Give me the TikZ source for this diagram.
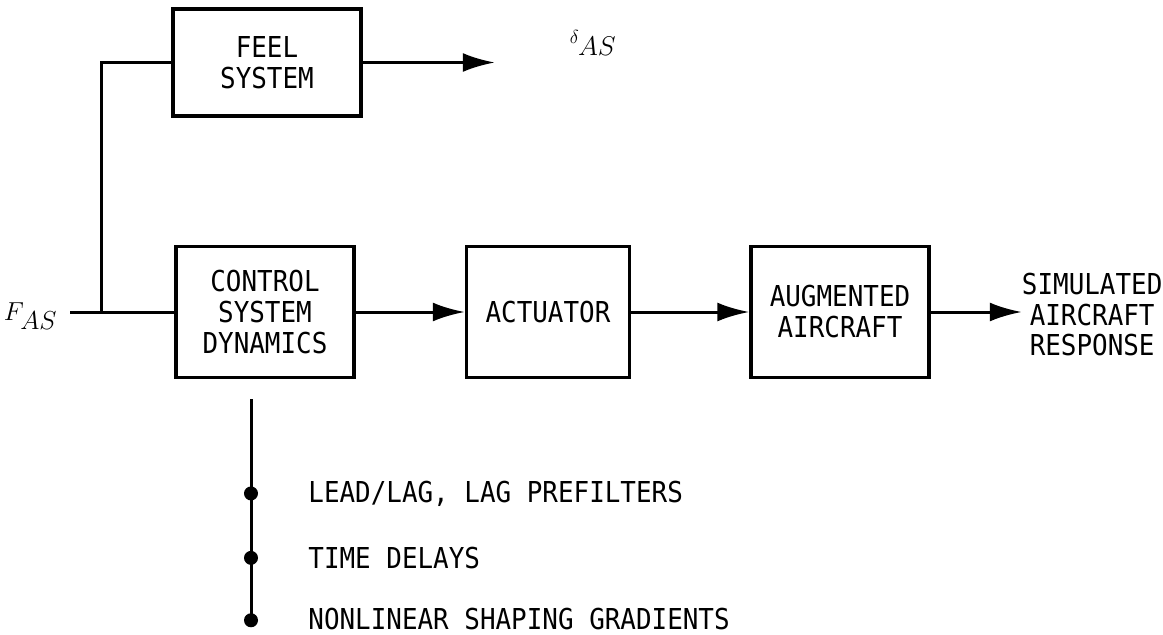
\RequirePackage{fix-cm}
\documentclass[tikz,border=0pt]{standalone}
\usepackage{fontspec}
\newfontfamily\lblfont[FakeStretch=0.9]{DejaVu Sans Mono}
\usetikzlibrary{positioning}
\usetikzlibrary{arrows.meta}
\tikzset{
	block/.style={
		rectangle,
		align=center,
		line width=3.5pt,
		minimum height=131pt,
		inner sep=0pt,
		font=\lblfont\fontsize{28.8}{31}\selectfont
	},
	note/.style={
		align=center,
		inner sep=0pt,
		font=\lblfont\fontsize{28.8}{30.5}\selectfont
	},
	dot/.style={
		circle,
		fill,
		inner sep=0pt,
		minimum size=14pt
	},
	sig/.style={
		line width=3pt
	},
	arr/.style={
		sig,
		-{Latex[length=32pt,width=19pt]}
	}
}

\begin{document}
\begin{tikzpicture}[x=1pt, y=-1pt]
			\useasboundingbox (0,0) rectangle (1163,635);
			\draw node[draw, block, minimum width=178pt](Control) at (265,312){CONTROL\\ SYSTEM\\ DYNAMICS};
			\draw node[draw, block, minimum width=163pt, right=109pt of Control](Actuator){ACTUATOR};
			\draw node[draw, block, minimum width=178pt, right=118pt of Actuator](Augmented){AUGMENTED\\ AIRCRAFT};
			\draw node[draw, block, minimum width=188pt, minimum height=107pt, above=127pt of Control, xshift=2pt](Feel){FEEL\\ SYSTEM};
			\draw node[note, right=91pt of Augmented, yshift=-3pt](Response){SIMULATED\\ AIRCRAFT\\ RESPONSE};
			
			\coordinate[left=104pt of Control] (In);
			\coordinate[right=31pt of In] (Branch);
			\coordinate[right=132pt of Feel] (FeelOut);
			\coordinate[below=20pt of Control, xshift=-14pt] (Stem);
			
			\draw node[inner sep=0pt, left=13pt of In, yshift=-4pt, font=\fontsize{26}{26}\selectfont](Fas){$F_{\textstyle AS}$};
			\draw node[inner sep=0pt, right=75pt of FeelOut, yshift=20pt, font=\fontsize{27}{27}\selectfont](Delta){$\scriptstyle\delta_{\textstyle AS}$};
			
			\draw [sig] (In) -- (Control);
			\draw [sig, line join=miter] (Branch) |- (Feel);
			\draw [arr] (Feel) -- (FeelOut);
			\draw [arr] (Control) -- (Actuator);
			\draw [arr] (Actuator) -- (Augmented);
			\draw [arr] (Augmented.east) -- (Augmented.east -| Response.west);
			
			\draw node[dot, below=87pt of Stem](DotA){};
			\draw node[dot, below=50pt of DotA](DotB){};
			\draw node[dot, below=48pt of DotB](DotC){};
			\draw [sig] (Stem) -- (DotC.center);
			
			\draw node[note, right=50pt of DotA](Prefilters){LEAD/LAG, LAG PREFILTERS};
			\draw node[note, right=50pt of DotB](Delays){TIME DELAYS};
			\draw node[note, right=50pt of DotC, yshift=1pt](Gradients){NONLINEAR SHAPING GRADIENTS};
		\end{tikzpicture}
\end{document}
